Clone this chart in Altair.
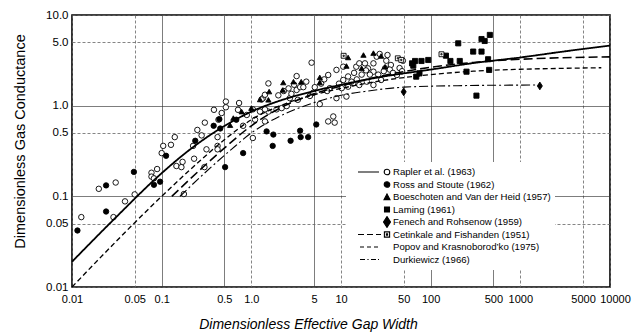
import altair as alt
import pandas as pd

# ---------------- series names ----------------
series_names = [
    "Rapler et al. (1963)",
    "Ross and Stoute (1962)",
    "Boeschoten and Van der Heid (1957)",
    "Laming (1961)",
    "Fenech and Rohsenow (1959)",
    "Cetinkale and Fishanden (1951)",
    "Popov and Krasnoborod\u2019ko (1975)",
    "Durkiewicz (1966)",
]

# ---------------- scatter data ----------------
rapler_x = [0.0127, 0.0199, 0.0307, 0.029, 0.039, 0.050, 0.077, 0.077, 0.082, 0.089, 0.10, 0.104, 0.127, 0.14,
            0.146, 0.166, 0.171, 0.177, 0.224, 0.23, 0.25,
            0.279, 0.303, 0.383, 0.467, 0.52, 0.43, 0.316, 0.30, 0.42, 0.42, 0.52, 0.73, 0.71, 0.89, 1.04, 1.04,
            1.10, 1.25, 1.42, 1.35, 1.55, 1.42, 1.55, 0.42, 0.81,
            1.42, 1.30, 1.91, 2.18, 2.48, 2.69, 3.2, 3.2, 3.5, 3.8, 4.1, 3.3, 4.7, 4.5, 4.9, 5.1, 5.8, 7.2, 8.9,
            10.6, 12, 11.5, 8.9, 10.2, 13.7, 14.8, 16, 18.5, 20, 23, 25, 27, 33, 32, 31, 36, 49, 42, 28, 23, 19.4,
            16, 13.1, 10.6, 7.5, 8.2, 7.2, 8.5, 23,
            2.0, 2.3, 2.6, 3.0, 2.8, 6.0, 6.5, 7.0, 9.5, 12, 14, 15, 17, 19, 21, 26, 30, 35, 38, 45, 48]
rapler_y = [0.059, 0.121, 0.142, 0.059, 0.088, 0.105, 0.182, 0.165, 0.158, 0.20, 0.30, 0.36, 0.37, 0.45,
            0.216, 0.21, 0.24, 0.106, 0.36, 0.26, 0.54,
            0.47, 0.65, 0.90, 0.83, 0.96, 0.70, 0.33, 0.21, 0.36, 0.33, 1.11, 1.07, 0.90, 0.79, 0.91, 0.44,
            0.70, 0.86, 0.67, 1.21, 1.76, 1.32, 0.86, 0.45, 0.60,
            0.91, 1.17, 0.91, 0.94, 0.99, 1.21, 1.49, 2.12, 1.60, 1.60, 1.84, 1.16, 2.98, 1.28, 1.39, 1.60, 1.04,
            2.18, 2.48, 2.69, 1.62, 1.26, 1.21, 1.56, 1.77, 2.69, 2.93, 2.93, 2.58, 2.37, 3.47, 3.72, 3.62, 3.13,
            2.58, 2.81, 3.13, 2.18, 1.92, 1.69, 1.84, 1.69, 1.84, 1.92, 1.56, 0.76, 0.67, 0.65, 2.93,
            1.3, 1.45, 1.55, 1.7, 1.35, 1.75, 1.95, 1.45, 1.75, 2.1, 2.3, 1.95, 2.2, 2.45, 2.2, 2.2, 2.4, 2.5,
            2.3, 2.6, 2.4]

ross_x = [0.0115, 0.024, 0.024, 0.049, 0.082, 0.096, 0.112, 0.237, 0.38, 0.45, 0.44, 0.51, 0.81, 1.48, 0.68,
          1.76, 1.73, 2.74, 3.5, 3.55, 4.3, 5.3]
ross_y = [0.042, 0.132, 0.068, 0.186, 0.134, 0.145, 0.28, 0.41, 0.60, 0.56, 0.71, 0.21, 0.30, 0.52, 0.70,
          0.48, 0.36, 0.41, 0.53, 0.45, 0.45, 0.62]

boeschoten_x = [0.58, 0.63, 0.78, 1.0, 1.25, 1.55, 1.58, 2.24, 2.27, 2.95, 3.6, 5.8, 5.8, 11.5, 12, 17, 17.8,
                23, 28, 31]
boeschoten_y = [0.61, 0.73, 0.86, 0.94, 1.17, 1.16, 1.43, 1.49, 1.80, 1.84, 1.84, 1.80, 2.05, 2.74, 3.4, 2.58,
                3.62, 3.8, 3.53, 2.69]

laming_x = [62, 64, 67, 69, 75, 79, 94, 148, 166, 203, 211, 251, 298, 324, 369, 369, 400, 437, 449, 457]
laming_y = [2.93, 2.76, 3.11, 2.09, 2.27, 3.11, 3.19, 3.56, 3.11, 4.87, 3.11, 2.37, 3.95, 1.29, 3.95, 5.43,
            5.17, 3.25, 2.48, 6.03]

fenech_x = [50, 1650]
fenech_y = [1.42, 1.65]

cetinkale_x = [10.7, 43, 47, 132]
cetinkale_y = [3.55, 3.33, 3.2, 3.69]

# ---------------- correlation curves ----------------
rapler_curve_x = [0.01, 0.03, 0.1, 0.2, 0.4, 0.7, 1, 2, 5, 10, 30, 100, 300, 1000, 3000, 10000]
rapler_curve_y = [0.019, 0.057, 0.18, 0.32, 0.52, 0.72, 0.86, 1.12, 1.45, 1.7, 2.1, 2.5, 2.95, 3.4, 3.95, 4.6]

cetinkale_curve_x = [0.13, 0.2, 0.5, 1, 2, 5, 10, 30, 100, 300, 1000, 3000, 10000]
cetinkale_curve_y = [0.1, 0.15, 0.34, 0.6, 0.92, 1.35, 1.65, 2.15, 2.65, 3.0, 3.25, 3.38, 3.45]

popov_curve_x = [0.01, 0.1, 0.2, 0.5, 1, 2, 5, 10, 30, 100, 300, 1000, 3000, 8000]
popov_curve_y = [0.01, 0.1, 0.19, 0.42, 0.7, 0.98, 1.32, 1.55, 1.9, 2.2, 2.4, 2.52, 2.58, 2.62]

durk_curve_x = [0.16, 0.3, 0.6, 1, 2, 5, 10, 20, 50, 200, 1650]
durk_curve_y = [0.1, 0.18, 0.33, 0.5, 0.75, 1.08, 1.3, 1.45, 1.6, 1.66, 1.69]

# ---------------- axes ----------------
x_ticks = [0.01, 0.05, 0.1, 0.5, 1, 5, 10, 50, 100, 500, 1000, 5000, 10000]
y_ticks = [0.01, 0.05, 0.1, 0.5, 1, 5, 10]
x_solid_grid = [0.1, 0.5, 5, 100, 500]
y_solid_grid = [0.1, 1]

# ---------------- tables ----------------
scatter = [
    (series_names[0], rapler_x, rapler_y),
    (series_names[1], ross_x, ross_y),
    (series_names[2], boeschoten_x, boeschoten_y),
    (series_names[3], laming_x, laming_y),
    (series_names[4], fenech_x, fenech_y),
    (series_names[5], cetinkale_x, cetinkale_y),
]
pts = pd.DataFrame([{"series": s, "x": a, "y": b} for s, xs, ys in scatter for a, b in zip(xs, ys)])

curves = [
    (series_names[0], rapler_curve_x, rapler_curve_y),
    (series_names[5], cetinkale_curve_x, cetinkale_curve_y),
    (series_names[6], popov_curve_x, popov_curve_y),
    (series_names[7], durk_curve_x, durk_curve_y),
]
crv = pd.DataFrame([{"curve": s, "x": a, "y": b} for s, xs, ys in curves for a, b in zip(xs, ys)])

legend_df = pd.DataFrame({"series": series_names})

# ---------------- symbols ----------------
diamond = "M0,-1.55L1,0L0,1.55L-1,0Z"
dot_square = "M-1,-1L1,-1L1,1L-1,1Z M-0.25,-0.25L0.25,-0.25L0.25,0.25L-0.25,0.25Z"
circ = "M0.66,0A0.14,0.14,0,1,0,0.94,0A0.14,0.14,0,1,0,0.66,0Z"
legend_paths = [
    "M-0.65,0L0.4,0 " + circ,
    circ,
    "M0.8,-0.15L0.95,0.13L0.65,0.13Z",
    "M0.675,-0.125L0.925,-0.125L0.925,0.125L0.675,0.125Z",
    "M0.8,-0.27L0.975,0L0.8,0.27L0.625,0Z",
    "M-0.65,0L-0.35,0M-0.2,0L0.1,0M0.25,0L0.5,0 M0.67,-0.13L0.93,-0.13L0.93,0.13L0.67,0.13Z "
    "M0.77,-0.03L0.83,-0.03L0.83,0.03L0.77,0.03Z",
    "M-0.55,0L-0.35,0M-0.2,0L0,0M0.15,0L0.35,0",
    "M-0.55,0L-0.3,0M-0.18,0L-0.12,0M0,0L0.25,0M0.35,0L0.4,0",
]
legend_fill = ["white", "black", "black", "black", "black", "white", "white", "white"]
legend_stroke = ["black"] * len(series_names)


def cond(values, yes, no):
    return {"condition": {"test": f"indexof({values}, datum.value) >= 0", "value": yes}, "value": no}


x_enc = alt.X("x:Q", scale=alt.Scale(type="log", domain=[0.01, 10000], nice=False),
              axis=alt.Axis(
                  values=x_ticks, title="Dimensionless Effective Gap Width",
                  labelExpr="datum.value == 1 ? '1.0' : (datum.value > 1 ? format(datum.value, 'd') : format(datum.value, '~g'))",
                  grid=True, ticks=False, domain=False, labelPadding=6, labelFontSize=11,
                  labelOverlap=False, labelFlush=False,
                  labelOffset={"condition": {"test": "datum.value == 10000", "value": 5}, "value": 0},
                  titleFontSize=14, titleFontStyle="italic", titleFontWeight="normal",
                  titleX=236, titleY=37, titleAnchor="middle", titleBaseline="middle",
                  gridDash=cond(x_solid_grid, [1, 0], [3, 2]),
                  gridColor=cond(x_solid_grid, "#333", "#666"),
              ))
y_enc = alt.Y("y:Q", scale=alt.Scale(type="log", domain=[0.01, 10], nice=False),
              axis=alt.Axis(
                  values=y_ticks, title="Dimensionless Gas Conductance",
                  labelExpr="datum.value >= 1 ? format(datum.value, '.1f') : format(datum.value, '~g')",
                  grid=True, ticks=False, domain=False, labelPadding=4, labelFontSize=11.5,
                  labelOverlap=False, labelFlush=False,
                  titleFontSize=14.5, titleFontWeight="normal", titleX=-52, titleY=126,
                  titleAlign="center", titleBaseline="middle",
                  gridDash=cond(y_solid_grid, [1, 0], [3, 2]),
                  gridColor=cond(y_solid_grid, "#333", "#666"),
              ))

points = alt.Chart(pts).mark_point(filled=True, stroke="black", strokeWidth=0.9, opacity=1).encode(
    x=x_enc, y=y_enc,
    shape=alt.Shape("series:N", scale=alt.Scale(domain=series_names[:6],
                    range=["circle", "circle", "triangle-up", "square", diamond, dot_square]), legend=None),
    fill=alt.Fill("series:N", scale=alt.Scale(domain=series_names[:6],
                  range=["white", "black", "black", "black", "black", "white"]), legend=None),
    size=alt.Size("series:N", scale=alt.Scale(domain=series_names[:6], range=[30, 24, 32, 24, 50, 9]),
                  legend=None),
)

curve_names = [series_names[0], series_names[5], series_names[6], series_names[7]]
lines = alt.Chart(crv).mark_line(color="black", interpolate="monotone").encode(
    x="x:Q", y="y:Q",
    strokeDash=alt.StrokeDash("curve:N", scale=alt.Scale(
        domain=curve_names, range=[[1, 0], [9, 4], [5, 3], [9, 3, 2, 3]]), legend=None),
    strokeWidth=alt.StrokeWidth("curve:N", scale=alt.Scale(
        domain=curve_names, range=[1.8, 1.1, 1.0, 1.0]), legend=None),
)

legend_layer = alt.Chart(legend_df).transform_filter("false").mark_point(
    filled=True, strokeWidth=1.1, opacity=1, size=1600).encode(
    shape=alt.Shape("series:N", scale=alt.Scale(domain=series_names, range=legend_paths),
                    legend=alt.Legend(title=None)),
    fill=alt.Fill("series:N", scale=alt.Scale(domain=series_names, range=legend_fill),
                  legend=alt.Legend(title=None)),
    stroke=alt.Stroke("series:N", scale=alt.Scale(domain=series_names, range=legend_stroke),
                      legend=alt.Legend(title=None)),
)

chart = alt.layer(points, lines, legend_layer).resolve_scale(
    shape="independent", fill="independent", size="independent", stroke="independent"
).properties(
    width=538, height=272,
    autosize=alt.AutoSizeParams(type="none"),
    padding={"left": 72, "top": 15, "right": 27, "bottom": 47},
).configure(
    font="Liberation Sans",
).configure_view(
    stroke="black", strokeWidth=1.6,
).configure_axis(
    labelColor="black", titleColor="black", labelFont="Liberation Sans", titleFont="Liberation Sans",
    gridWidth=0.8,
).configure_legend(
    orient="none", legendX=274, legendY=147, fillColor="white", padding=4,
    labelFont="Liberation Sans", labelFontSize=9.6, labelColor="black",
    clipHeight=12, rowPadding=0.5, symbolSize=1600, labelOffset=1,
    symbolStrokeWidth=1.1, symbolOpacity=1,
)

chart.save("out.html", embed_options={"renderer": "svg", "actions": False})
